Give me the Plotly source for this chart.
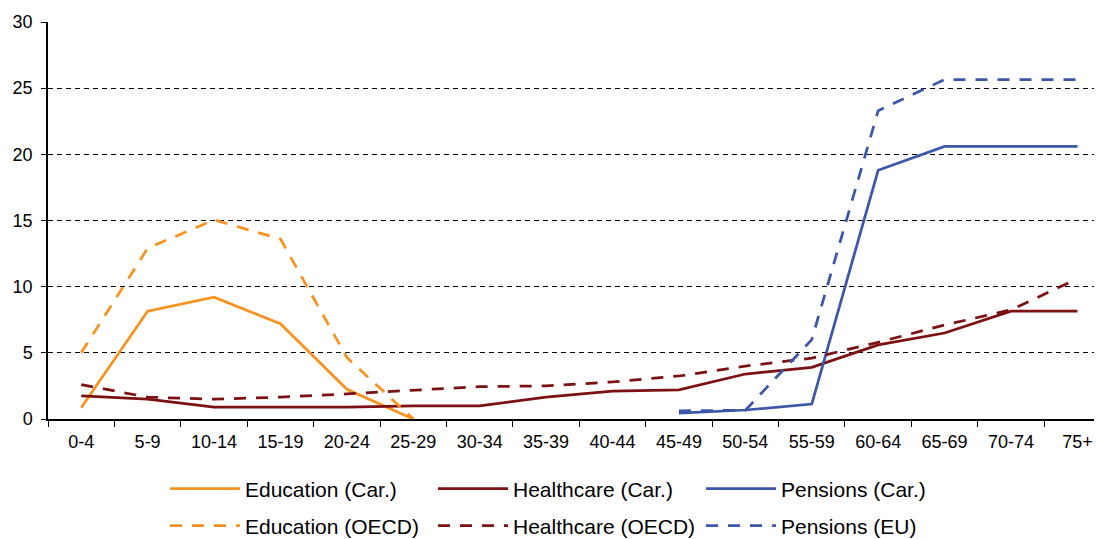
import plotly.graph_objects as go

age_groups = ["0-4", "5-9", "10-14", "15-19", "20-24", "25-29", "30-34", "35-39",
              "40-44", "45-49", "50-54", "55-59", "60-64", "65-69", "70-74", "75+"]

education_car = [0.85, 8.15, 9.2, 7.2, 2.25, 0.0, None, None, None, None, None, None, None, None, None, None]
education_oecd = [5.0, 12.9, 15.05, 13.6, 4.65, 0.0, None, None, None, None, None, None, None, None, None, None]
healthcare_car = [1.75, 1.5, 0.9, 0.9, 0.9, 1.0, 1.0, 1.65, 2.1, 2.2, 3.4, 3.9, 5.6, 6.5, 8.15, 8.15]
healthcare_oecd = [2.6, 1.65, 1.5, 1.65, 1.9, 2.15, 2.45, 2.5, 2.8, 3.25, 4.0, 4.6, 5.8, 7.1, 8.25, 10.6]
pensions_car = [None, None, None, None, None, None, None, None, None, 0.45, 0.68, 1.13, 18.8, 20.6, 20.6, 20.6]
pensions_eu = [None, None, None, None, None, None, None, None, None, 0.62, 0.66, 6.0, 23.3, 25.65, 25.65, 25.65]

ORANGE = "#F7931E"
DARKRED = "#7B1113"
BLUE = "#3B57A8"
FONT = "Liberation Sans, Arial, sans-serif"

# the page body adds an 8px margin; the figure is sized to fill the rest of the window
W, H = 1094, 531

fig = go.Figure()
series = [
    ("Education (Car.)", education_car, ORANGE, "solid", "legend"),
    ("Healthcare (Car.)", healthcare_car, DARKRED, "solid", "legend"),
    ("Pensions (Car.)", pensions_car, BLUE, "solid", "legend"),
    ("Education (OECD)", education_oecd, ORANGE, "12px,10px", "legend2"),
    ("Healthcare (OECD)", healthcare_oecd, DARKRED, "12px,10px", "legend2"),
    ("Pensions (EU)", pensions_eu, BLUE, "12px,10px", "legend2"),
]
for name, vals, color, dash, leg in series:
    fig.add_trace(go.Scatter(
        x=age_groups, y=vals, name=name, mode="lines",
        line=dict(color=color, width=2.75, dash=dash),
        connectgaps=False, legend=leg,
    ))

legend_common = dict(
    orientation="h", xref="container", yref="container",
    xanchor="left", yanchor="middle",
    font=dict(family=FONT, size=21, color="#000000"),
    itemwidth=70, entrywidth=183, bgcolor="rgba(0,0,0,0)",
    traceorder="normal",
)

fig.update_layout(
    width=W, height=H,
    margin=dict(l=40, r=0, t=14, b=120),
    paper_bgcolor="white", plot_bgcolor="white",
    font=dict(family=FONT, size=18, color="#000000"),
    showlegend=True,
    legend=dict(x=157 / W, y=1 - 481 / H, **legend_common),
    legend2=dict(x=157 / W, y=1 - 518 / H, **legend_common),
    xaxis=dict(
        type="category", range=[-0.5, 15.37],
        showgrid=False, showline=True, linecolor="#000000", linewidth=1.5,
        ticks="outside", tickson="boundaries", ticklen=6, tickcolor="#000000",
        tickfont=dict(family=FONT, size=18), ticklabelstandoff=6,
        zeroline=False,
    ),
    yaxis=dict(
        range=[0, 30], tickvals=[0, 5, 10, 15, 20, 25, 30],
        showgrid=True, gridcolor="#000000", gridwidth=1, griddash="5px,4px",
        showline=True, linecolor="#000000", linewidth=1.5,
        ticks="outside", ticklen=5, tickcolor="#000000",
        tickfont=dict(family=FONT, size=18), ticklabelstandoff=5,
        zeroline=False,
    ),
)

fig.write_html("out.html")
